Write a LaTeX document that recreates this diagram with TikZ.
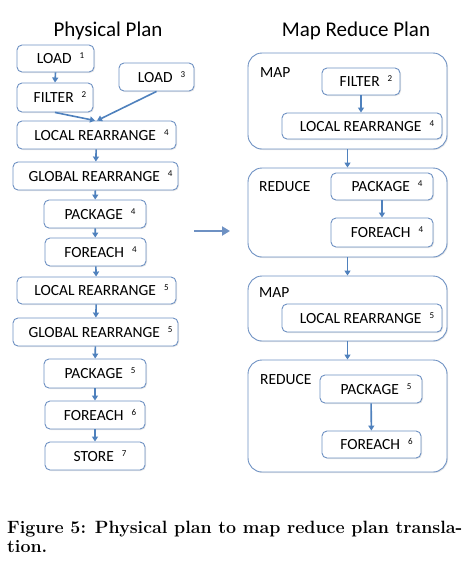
\documentclass[tikz,border=0pt]{standalone}
\usepackage{fontspec}
\newfontfamily\carlitofont{Carlito}
\usetikzlibrary{arrows.meta,shadows}
\definecolor{bord}{RGB}{110,145,195}
\definecolor{arr}{RGB}{79,129,189}
\begin{document}
\begin{tikzpicture}[x=1pt,y=-1pt,
  op/.style={draw=bord, line width=0.9pt, rounded corners=5pt, fill=white,
    drop shadow={opacity=0.2, shadow xshift=1pt, shadow yshift=-1pt},
    font=\carlitofont\fontsize{15.5}{15.5}\selectfont, inner sep=0pt},
  grp/.style={draw=bord, line width=0.9pt, rounded corners=14pt, fill=white,
    drop shadow={opacity=0.2, shadow xshift=1pt, shadow yshift=-1pt}, inner sep=0pt},
  lbl/.style={font=\carlitofont\fontsize{15.5}{15.5}\selectfont, anchor=west, inner sep=0pt},
  ttl/.style={font=\carlitofont\fontsize{21}{21}\selectfont, inner sep=0pt},
  con/.style={draw=arr, line width=1.6pt, -{Triangle[length=5pt,width=6pt]}},
]
\useasboundingbox (0,0) rectangle (475,574);
\newcommand{\lab}[2]{\hspace{10pt}#1\hspace{8pt}\raisebox{5pt}{\fontsize{9}{9}\selectfont #2}}

\node[ttl] (t1) at (108,31) {Physical Plan};
\node[ttl] (t2) at (356,31) {Map Reduce Plan};

% left column
\node[op, minimum width=77pt, minimum height=27pt] (load1) at (55.5,58.5) {\lab{LOAD}{1}};
\node[op, minimum width=75pt, minimum height=28pt] (load3) at (156.5,77) {\lab{LOAD}{3}};
\node[op, minimum width=76pt, minimum height=29pt] (filter2) at (55,97.5) {\lab{FILTER}{2}};
\node[op, minimum width=159pt, minimum height=28pt] (lr4) at (96.5,135) {\lab{LOCAL REARRANGE}{4}};
\node[op, minimum width=165pt, minimum height=28pt] (gr4) at (95.5,176) {\lab{GLOBAL REARRANGE}{4}};
\node[op, minimum width=102pt, minimum height=28pt] (pk4) at (95,214) {\lab{PACKAGE}{4}};
\node[op, minimum width=101pt, minimum height=28pt] (fe4) at (95.5,252) {\lab{FOREACH}{4}};
\node[op, minimum width=159pt, minimum height=27pt] (lr5) at (96.5,290.5) {\lab{LOCAL REARRANGE}{5}};
\node[op, minimum width=165pt, minimum height=28pt] (gr5) at (95.5,332) {\lab{GLOBAL REARRANGE}{5}};
\node[op, minimum width=102pt, minimum height=29pt] (pk5) at (95,373.5) {\lab{PACKAGE}{5}};
\node[op, minimum width=100pt, minimum height=28pt] (fe6) at (95,415) {\lab{FOREACH}{6}};
\node[op, minimum width=100pt, minimum height=28pt] (st7) at (95,456) {\lab{STORE}{7}};

\draw[con] (load1.south) -- (filter2.north);
\draw[con] (filter2.south) -- ([xshift=-1.5pt]lr4.north);
\draw[con] ([xshift=0pt]load3.south) -- ([xshift=0.5pt]lr4.north);
\draw[con] (lr4) -- (gr4);
\draw[con] (gr4) -- (pk4);
\draw[con] (pk4) -- (fe4);
\draw[con] (fe4) -- (lr5);
\draw[con] (lr5) -- (gr5);
\draw[con] (gr5) -- (pk5);
\draw[con] (pk5) -- (fe6);
\draw[con] (fe6) -- (st7);

% big arrow
\coordinate (ba1) at (194,231);
\coordinate (ba2) at (230,231);
\draw[draw=bord, line width=2.6pt, -{Triangle[length=8pt,width=9pt]}] (ba1) -- (ba2);

% right column
\node[grp, minimum width=199pt, minimum height=96pt] (map1) at (347.5,101) {};
\node[lbl] (mapl1) at (260,73) {MAP};
\node[op, minimum width=78pt, minimum height=27pt] (rf2) at (361,81.5) {\lab{FILTER}{2}};
\node[op, minimum width=160pt, minimum height=26pt] (rlr4) at (362,126) {\lab{LOCAL REARRANGE}{4}};
\draw[con] (rf2.south) -- (rf2.south |- rlr4.north);

\node[grp, minimum width=199pt, minimum height=89pt] (red1) at (347.5,212.5) {};
\node[lbl] (redl1) at (259,187) {REDUCE};
\node[op, minimum width=102pt, minimum height=27pt] (rpk4) at (382,186.5) {\lab{PACKAGE}{4}};
\node[op, minimum width=102pt, minimum height=29pt] (rfe4) at (382,232.5) {\lab{FOREACH}{4}};
\draw[con] (rpk4) -- (rfe4);

\node[grp, minimum width=199pt, minimum height=65pt] (map2) at (347.5,308.5) {};
\node[lbl] (mapl2) at (259,293) {MAP};
\node[op, minimum width=160pt, minimum height=28pt] (rlr5) at (362,318) {\lab{LOCAL REARRANGE}{5}};

\node[grp, minimum width=199pt, minimum height=112pt] (red2) at (347.5,416) {};
\node[lbl] (redl2) at (260,380) {REDUCE};
\node[op, minimum width=102pt, minimum height=28pt] (rpk5) at (371,389) {\lab{PACKAGE}{5}};
\node[op, minimum width=99pt, minimum height=27pt] (rfe6) at (371.5,444.5) {\lab{FOREACH}{6}};
\draw[con] (rpk5) -- (rfe6);

\draw[con] (map1.south) -- (red1.north);
\draw[con] (red1.south) -- (map2.north);
\draw[con] (map2.south) -- (red2.north);

% caption
\node[anchor=base west, inner sep=0pt, font=\bfseries\fontsize{17.8}{17.8}\selectfont] (cap1) at (7,533) {Figure 5: Physical plan to map reduce plan transla-};
\node[anchor=base west, inner sep=0pt, font=\bfseries\fontsize{17.8}{17.8}\selectfont] (cap2) at (7,552) {tion.};
\end{tikzpicture}
\end{document}
